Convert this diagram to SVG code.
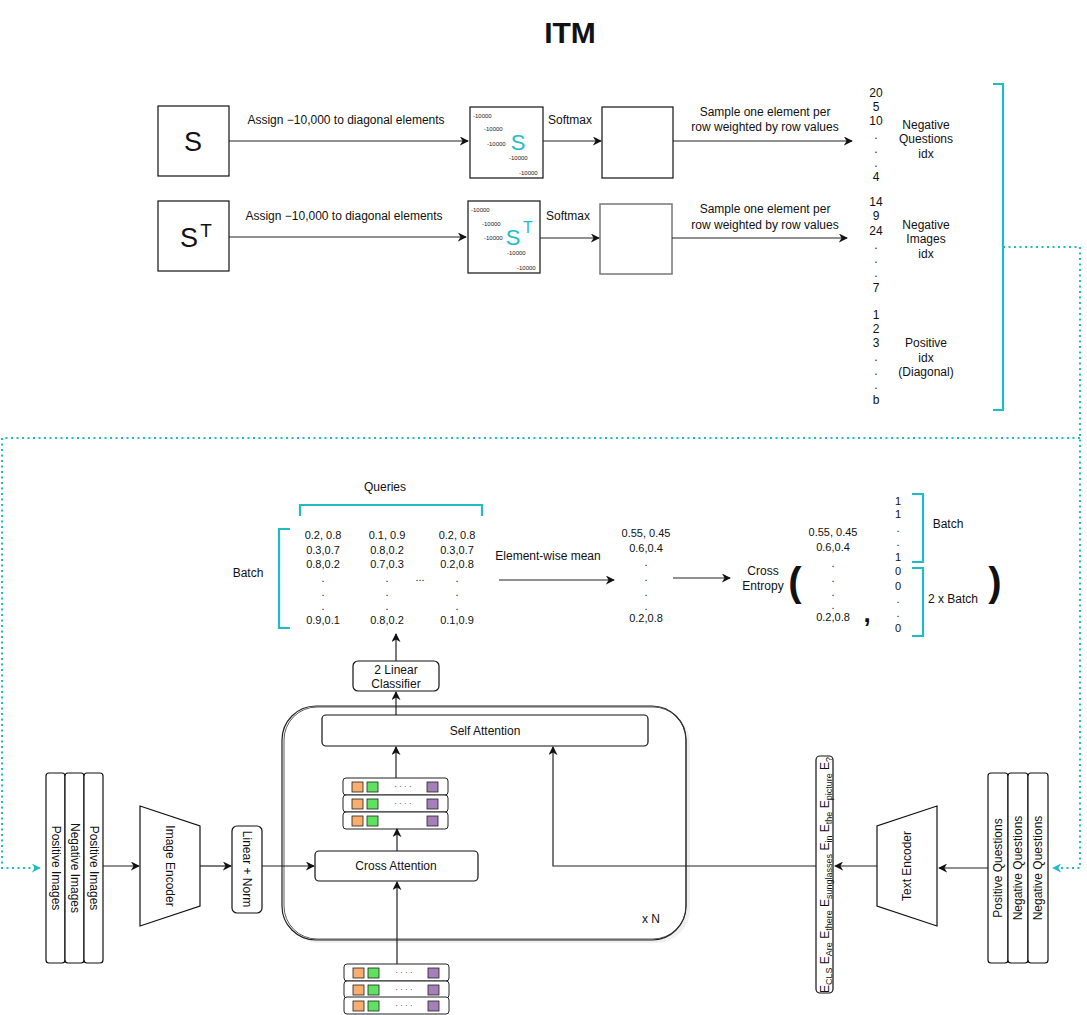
<svg xmlns="http://www.w3.org/2000/svg" width="1087" height="1015" viewBox="0 0 1087 1015">
<defs>
<marker id="arr" viewBox="0 0 10 10" refX="9" refY="5" markerWidth="9" markerHeight="9" markerUnits="userSpaceOnUse" orient="auto">
<path d="M0,0 L10,5 L0,10 L3,5 z" fill="#111"/>
</marker>
<marker id="arrT" viewBox="0 0 10 10" refX="9" refY="5" markerWidth="9" markerHeight="9" markerUnits="userSpaceOnUse" orient="auto">
<path d="M0,0 L10,5 L0,10 L3,5 z" fill="#20BCC4"/>
</marker>
<g id="tokrow">
<rect x="0" y="0" width="105" height="17" rx="3" fill="#fff" stroke="#222"/>
<rect x="9" y="4" width="11" height="10" fill="#F8AE6E" stroke="#222" stroke-width="0.8"/>
<rect x="24" y="4" width="11" height="10" fill="#5FE25F" stroke="#222" stroke-width="0.8"/>
<rect x="84" y="4" width="11" height="10" fill="#A57EBA" stroke="#222" stroke-width="0.8"/>
</g>
<g id="tokdots">
<text x="60" y="11" font-size="8" text-anchor="middle" font-family="Liberation Sans, sans-serif">· · · ·</text>
</g>
</defs>
<style>
text{font-family:"Liberation Sans",Arial,sans-serif;fill:#111}
.c{font-size:12px;text-anchor:middle}
.box{fill:#fff;stroke:#111;stroke-width:1.2}
.gbox{fill:#fff;stroke:#777;stroke-width:1.5}
.ar{fill:none;stroke:#222;stroke-width:1.2;marker-end:url(#arr)}
.teal{fill:none;stroke:#20BCC4;stroke-width:2.2}
.dot{fill:none;stroke:#20BCC4;stroke-width:2;stroke-dasharray:2 3.5}
.tiny{font-size:6px;fill:#222}
</style>

<text x="570" y="43" font-size="30" font-weight="bold" text-anchor="middle">ITM</text>

<!-- top section -->
<g id="S">
<rect class="box" x="158" y="106" width="71" height="70"/>
<text x="193" y="151" font-size="27" text-anchor="middle">S</text>
</g>
<g id="ST">
<rect class="box" x="158" y="201" width="71" height="70"/>
<text x="189" y="247" font-size="27" text-anchor="middle">S</text>
<text x="206" y="237" font-size="19" text-anchor="middle">T</text>
</g>
<g id="M1">
<rect class="box" x="470" y="107" width="73" height="71"/>
<text x="473" y="118" class="tiny">-10000</text>
<text x="484" y="131" class="tiny">-10000</text>
<text x="487" y="146" class="tiny">-10000</text>
<text x="509" y="160" class="tiny">-10000</text>
<text x="519" y="175" class="tiny">-10000</text>
<text x="518" y="150" font-size="22" text-anchor="middle" style="fill:#1FBEC6">S</text>
</g>
<g id="M2">
<rect class="box" x="468" y="201" width="72" height="72"/>
<text x="471" y="212" class="tiny">-10000</text>
<text x="482" y="226" class="tiny">-10000</text>
<text x="484" y="240" class="tiny">-10000</text>
<text x="507" y="255" class="tiny">-10000</text>
<text x="517" y="270" class="tiny">-10000</text>
<text x="513" y="245" font-size="22" text-anchor="middle" style="fill:#1FBEC6">S</text>
<text x="528" y="233" font-size="16" text-anchor="middle" style="fill:#1FBEC6">T</text>
</g>
<g id="SM1"><rect class="box" x="602" y="107" width="71" height="71"/></g>
<g id="SM2"><rect class="gbox" x="600" y="204" width="72" height="70"/></g>

<g id="idx">
<g class="c">
<text x="876" y="97">20</text><text x="876" y="111">5</text><text x="876" y="125">10</text>
<text x="876" y="139">.</text><text x="876" y="153">.</text><text x="876" y="167">.</text><text x="876" y="181">4</text>
<text x="876" y="206">14</text><text x="876" y="220">9</text><text x="876" y="235">24</text>
<text x="876" y="249">.</text><text x="876" y="263">.</text><text x="876" y="277">.</text><text x="876" y="292">7</text>
<text x="876" y="319">1</text><text x="876" y="333">2</text><text x="876" y="347">3</text>
<text x="876" y="361">.</text><text x="876" y="375">.</text><text x="876" y="389">.</text><text x="876" y="404">b</text>
<text x="926" y="129">Negative</text><text x="926" y="143">Questions</text><text x="926" y="158">idx</text>
<text x="926" y="229">Negative</text><text x="926" y="243">Images</text><text x="926" y="258">idx</text>
<text x="926" y="347">Positive</text><text x="926" y="362">idx</text><text x="926" y="376">(Diagonal)</text>
</g>
<path class="teal" d="M993,84 H1003 V410 H993"/>
</g>

<!-- lower section -->
<g id="queries">
<text x="385" y="491" class="c">Queries</text>
<path class="teal" d="M300,516 V505 H482 V516"/>
<path class="teal" d="M290,529 H279 V628 H290"/>
<text x="248" y="577" class="c">Batch</text>
<g class="c" style="font-size:11px">
<text x="323" y="539">0.2, 0.8</text><text x="323" y="554">0.3,0.7</text><text x="323" y="568">0.8,0.2</text>
<text x="323" y="582">.</text><text x="323" y="596">.</text><text x="323" y="610">.</text><text x="323" y="624">0.9,0.1</text>
<text x="387" y="539">0.1, 0.9</text><text x="387" y="554">0.8,0.2</text><text x="387" y="568">0.7,0.3</text>
<text x="387" y="582">.</text><text x="387" y="596">.</text><text x="387" y="610">.</text><text x="387" y="624">0.8,0.2</text>
<text x="457" y="539">0.2, 0.8</text><text x="457" y="554">0.3,0.7</text><text x="457" y="568">0.2,0.8</text>
<text x="457" y="582">.</text><text x="457" y="596">.</text><text x="457" y="610">.</text><text x="457" y="624">0.1,0.9</text>
<text x="420" y="581">...</text>
</g>
</g>
<g id="mean">
<text x="548" y="560" class="c">Element-wise mean</text>
<g class="c" style="font-size:11px">
<text x="646" y="537">0.55, 0.45</text><text x="646" y="552">0.6,0.4</text>
<text x="646" y="566">.</text><text x="646" y="581">.</text><text x="646" y="596">.</text><text x="646" y="610">.</text>
<text x="646" y="622">0.2,0.8</text>
</g>
</g>
<g id="ce">
<text x="763" y="575" class="c">Cross</text><text x="763" y="590" class="c">Entropy</text>
<text x="795" y="596" font-size="40" font-weight="bold" text-anchor="middle">(</text>
<text x="995" y="596" font-size="40" font-weight="bold" text-anchor="middle">)</text>
<text x="867" y="622" font-size="26" font-weight="bold" text-anchor="middle">,</text>
<g class="c" style="font-size:11px">
<text x="833" y="536">0.55, 0.45</text><text x="833" y="551">0.6,0.4</text>
<text x="833" y="567">.</text><text x="833" y="582">.</text><text x="833" y="596">.</text><text x="833" y="609">.</text>
<text x="833" y="621">0.2,0.8</text>
<text x="898" y="505">1</text><text x="898" y="518">1</text><text x="898" y="532">.</text><text x="898" y="546">.</text><text x="898" y="561">1</text>
<text x="898" y="575">0</text><text x="898" y="590">0</text><text x="898" y="603">.</text><text x="898" y="617">.</text><text x="898" y="632">0</text>
</g>
<path class="teal" d="M912,494 H923 V562 H912"/>
<path class="teal" d="M912,568 H923 V636 H912"/>
<text x="948" y="528" class="c">Batch</text>
<text x="953" y="603" class="c">2 x Batch</text>
</g>

<g id="classifier">
<rect class="box" x="353" y="661" width="86" height="30" rx="5"/>
<text x="396" y="674" class="c">2 Linear</text>
<text x="396" y="688" class="c">Classifier</text>
</g>

<g id="container">
<rect x="286" y="709" width="404" height="234" rx="34" fill="#000" opacity="0.06"/>
<rect x="282" y="706" width="404" height="234" rx="34" fill="#fff" stroke="#222" stroke-width="1.2"/>
<rect x="284" y="707" width="402" height="232" rx="33" fill="none" stroke="#333" stroke-width="0.8"/>
<text x="651" y="923" class="c">x N</text>
</g>
<g id="selfatt">
<rect class="box" x="322" y="715" width="326" height="31" rx="4"/>
<text x="485" y="735" class="c">Self Attention</text>
</g>
<g id="crossatt">
<rect class="box" x="315" y="851" width="163" height="30" rx="4"/>
<text x="396" y="870" class="c">Cross Attention</text>
</g>
<g id="tokens_mid">
<use href="#tokrow" x="343" y="778"/><use href="#tokdots" x="343" y="778"/>
<use href="#tokrow" x="343" y="795"/><use href="#tokdots" x="343" y="795"/>
<use href="#tokrow" x="343" y="812"/>
</g>
<g id="tokens_bot">
<use href="#tokrow" x="344" y="964"/><use href="#tokdots" x="344" y="964"/>
<use href="#tokrow" x="344" y="981"/><use href="#tokdots" x="344" y="981"/>
<use href="#tokrow" x="344" y="997"/><use href="#tokdots" x="344" y="997"/>
</g>

<g id="images">
<rect class="box" x="46" y="773" width="19" height="190" rx="3"/>
<rect class="box" x="65" y="773" width="19" height="190" rx="3"/>
<rect class="box" x="84" y="773" width="19" height="190" rx="3"/>
<text class="c" transform="translate(52,868) rotate(90)">Positive Images</text>
<text class="c" transform="translate(71,868) rotate(90)">Negative Images</text>
<text class="c" transform="translate(90,868) rotate(90)">Positive Images</text>
</g>
<g id="imgenc">
<path class="box" d="M140,806 L200,826 L200,906 L140,926 Z"/>
<text class="c" transform="translate(166,866) rotate(90)">Image Encoder</text>
</g>
<g id="linnorm">
<rect class="box" x="232" y="826" width="30" height="87" rx="5"/>
<text class="c" transform="translate(243,869) rotate(90)">Linear + Norm</text>
</g>

<g id="questions">
<rect class="box" x="988" y="773" width="20" height="190" rx="3"/>
<rect class="box" x="1008" y="773" width="20" height="190" rx="3"/>
<rect class="box" x="1028" y="773" width="20" height="190" rx="3"/>
<text class="c" transform="translate(1002,868) rotate(-90)">Positive Questions</text>
<text class="c" transform="translate(1022,868) rotate(-90)">Negative Questions</text>
<text class="c" transform="translate(1042,868) rotate(-90)">Negative Questions</text>
</g>
<g id="txtenc">
<path class="box" d="M937,806 L937,926 L877,906 L877,826 Z"/>
<text class="c" transform="translate(911,866) rotate(-90)">Text Encoder</text>
</g>
<g id="ebox">
<rect class="box" x="816" y="756" width="17" height="237" rx="4"/>
<text font-size="12" text-anchor="middle" transform="translate(829,875) rotate(-90)">E<tspan font-size="9" dy="3">CLS</tspan><tspan dy="-3"> E</tspan><tspan font-size="9" dy="3">Are</tspan><tspan dy="-3"> E</tspan><tspan font-size="9" dy="3">there</tspan><tspan dy="-3"> E</tspan><tspan font-size="9" dy="3">sunglasses</tspan><tspan dy="-3"> E</tspan><tspan font-size="9" dy="3">in</tspan><tspan dy="-3"> E</tspan><tspan font-size="9" dy="3">the</tspan><tspan dy="-3"> E</tspan><tspan font-size="9" dy="3">picture</tspan><tspan dy="-3"> E</tspan><tspan font-size="9" dy="3">?</tspan></text>
</g>

<g id="connectors">
<path class="ar" d="M229,141 H468"/>
<text x="346" y="124" class="c">Assign −10,000 to diagonal elements</text>
<path class="ar" d="M229,237 H466"/>
<text x="344" y="220" class="c">Assign −10,000 to diagonal elements</text>
<path class="ar" d="M543,141 H601"/>
<text x="570" y="124" class="c">Softmax</text>
<path class="ar" d="M540,238 H599"/>
<text x="568" y="220" class="c">Softmax</text>
<path class="ar" d="M673,141 H852"/>
<text x="765" y="116" class="c">Sample one element per</text>
<text x="765" y="131" class="c">row weighted by row values</text>
<path class="ar" d="M672,238 H847"/>
<text x="765" y="213" class="c">Sample one element per</text>
<text x="765" y="229" class="c">row weighted by row values</text>

<path class="dot" d="M1003,247 H1080 V868 H1053" marker-end="url(#arrT)"/>
<path class="dot" d="M1080,438 H2 V868 H40" marker-end="url(#arrT)"/>

<path class="ar" d="M499,580 H614"/>
<path class="ar" d="M673,578 H730"/>
<path class="ar" d="M396,661 V634"/>
<path class="ar" d="M396,715 V692"/>
<path class="ar" d="M396,778 V747"/>
<path class="ar" d="M397,851 V829"/>
<path class="ar" d="M397,964 V882"/>
<path class="ar" d="M103,866 H139"/>
<path class="ar" d="M200,866 H231"/>
<path class="ar" d="M262,866 H314"/>
<path class="ar" d="M988,868 H939"/>
<path class="ar" d="M877,866 H835"/>
<path class="ar" d="M816,866 H553 V747"/>
</g>
</svg>
